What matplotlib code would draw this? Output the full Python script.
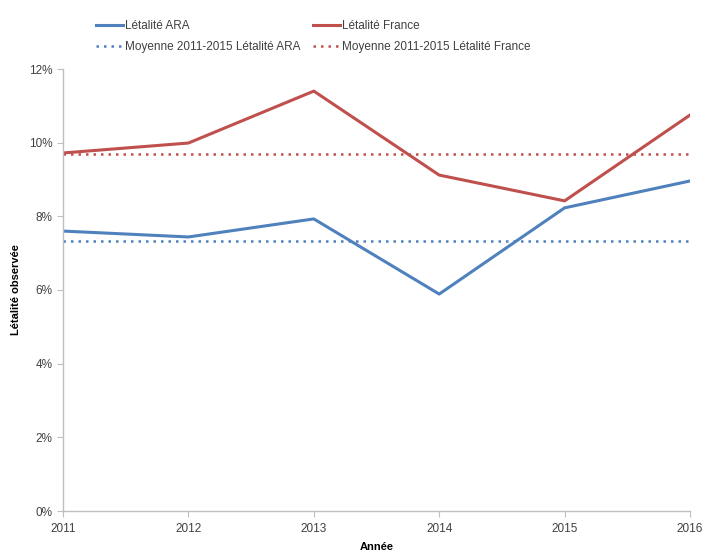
import matplotlib
matplotlib.use('Agg')
import matplotlib.pyplot as plt
from matplotlib.ticker import FuncFormatter

plt.rcParams['font.family'] = ['Liberation Sans', 'DejaVu Sans']

annees = [2011, 2012, 2013, 2014, 2015, 2016]
letalite_ara = [7.60, 7.44, 7.93, 5.89, 8.23, 8.96]
letalite_france = [9.72, 9.99, 11.40, 9.12, 8.42, 10.75]
moyenne_ara = 7.33
moyenne_france = 9.69

BLEU = '#4f81bd'
ROUGE = '#c0504d'
GRIS = '#404040'

fig = plt.figure(figsize=(7.04, 5.52), dpi=100)
ax = fig.add_axes([63 / 704, 41 / 552, 627 / 704, 442 / 552])

ax.plot(annees, letalite_ara, color=BLEU, lw=2.2, label='Létalité ARA')
ax.plot(annees, [moyenne_ara] * len(annees), color=BLEU, lw=1.8, ls=(0, (1, 2)),
        label='Moyenne 2011-2015 Létalité ARA')
ax.plot(annees, letalite_france, color=ROUGE, lw=2.2, label='Létalité France')
ax.plot(annees, [moyenne_france] * len(annees), color=ROUGE, lw=1.8, ls=(0, (1, 2)),
        label='Moyenne 2011-2015 Létalité France')

ax.set_xlim(2011, 2016)
ax.set_ylim(0, 12)
ax.set_xticks(annees)
ax.set_yticks(range(0, 13, 2))
ax.yaxis.set_major_formatter(FuncFormatter(lambda v, _: f'{v:.0f}%'))

for s in ('top', 'right'):
    ax.spines[s].set_visible(False)
for s in ('left', 'bottom'):
    ax.spines[s].set_color('#bfbfbf')
    ax.spines[s].set_linewidth(1)
ax.tick_params(axis='both', colors='#bfbfbf', labelcolor=GRIS, labelsize=8.5,
               length=4, direction='out')
ax.tick_params(axis='x', pad=5)

ax.set_xlabel('Année', fontsize=8, fontweight='bold', color='black', labelpad=5)
ax.set_ylabel('Létalité observée', fontsize=8, fontweight='bold', color='black', labelpad=6)

fig.legend(loc='upper left', bbox_to_anchor=(90 / 704, 1 - 14 / 552), ncol=2,
           frameon=False, fontsize=8.5, handlelength=2.3, handletextpad=0.2,
           columnspacing=1.0, labelspacing=0.8, borderpad=0, labelcolor=GRIS)

fig.savefig('out.png', dpi=100)
